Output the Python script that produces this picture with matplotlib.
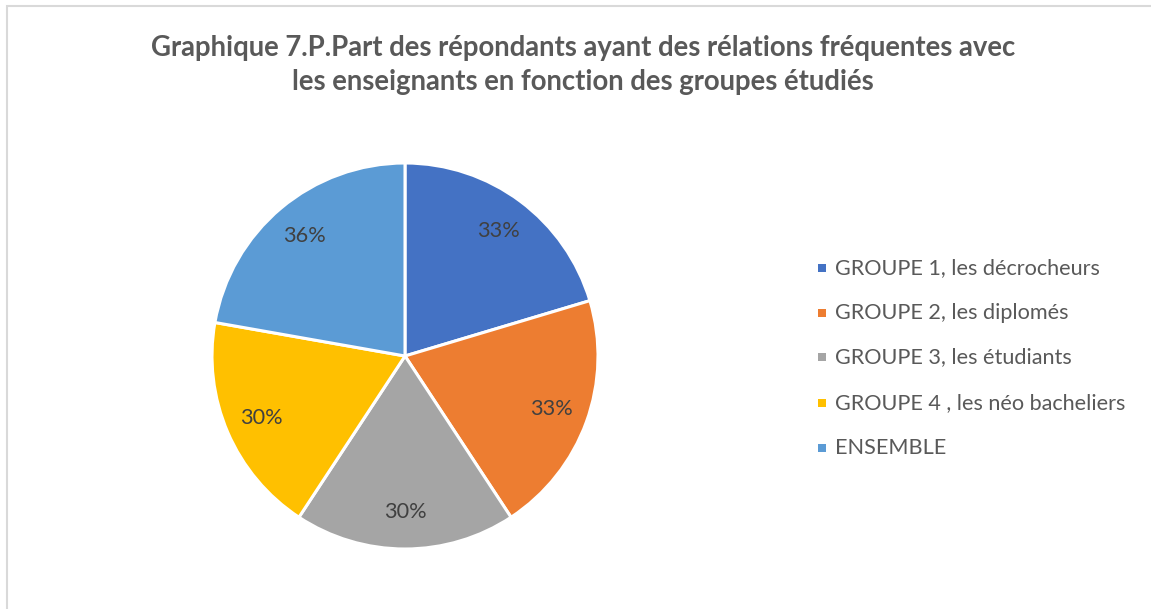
import matplotlib
matplotlib.use("Agg")
import matplotlib.pyplot as plt
from matplotlib.patches import Rectangle
import numpy as np

categories = [
    "GROUPE 1, les décrocheurs",
    "GROUPE 2, les diplomés",
    "GROUPE 3, les étudiants",
    "GROUPE 4 , les néo bacheliers",
    "ENSEMBLE",
]
values = [33, 33, 30, 30, 36]
colors = ["#4472C4", "#ED7D31", "#A5A5A5", "#FFC000", "#5B9BD5"]
title = ("Graphique 7.P.Part des répondants ayant des rélations fréquentes avec\n"
         "les enseignants en fonction des groupes étudiés")

W, H = 1151, 609
fig = plt.figure(figsize=(W / 100, H / 100), dpi=100)
fig.patch.set_facecolor("white")

# chart frame (left and top edges visible)
fig.add_artist(Rectangle((7 / W, -0.1), 1.2, 1 - 6 / H + 0.1, transform=fig.transFigure,
                         fill=False, edgecolor="#D9D9D9", linewidth=1.5))

fig.text(583 / W, 1 - 65 / H, title, ha="center", va="center", fontsize=19.8,
         fontweight="bold", color="#595959", family="Lato", linespacing=1.42)

cx, cy, half = 405, 356, 200
ax = fig.add_axes([(cx - half) / W, 1 - (cy + half) / H, 2 * half / W, 2 * half / H])
R = 193 / half
wedges, _ = ax.pie(values, colors=colors, startangle=90, counterclock=False, radius=R,
                   wedgeprops=dict(edgecolor="white", linewidth=2.2))
ax.set_xlim(-1, 1)
ax.set_ylim(-1, 1)
ax.set_aspect("equal")
ax.axis("off")

for w, v in zip(wedges, values):
    ang = np.deg2rad((w.theta1 + w.theta2) / 2)
    r = 0.81 * R
    ax.text(r * np.cos(ang), r * np.sin(ang), f"{v}%", ha="center", va="center",
            fontsize=15.7, color="#404040", family="Lato")

# legend
ys = [268, 313, 357, 403, 448]
for name, c, y in zip(categories, colors, ys):
    fig.add_artist(Rectangle((818 / W, 1 - (y + 4) / H), 8 / W, 8 / H,
                             transform=fig.transFigure, facecolor=c, edgecolor="none"))
    fig.text(835 / W, 1 - y / H, name, ha="left", va="center", fontsize=15.6,
             color="#595959", family="Lato")

fig.savefig("out.png", dpi=100, facecolor="white")
